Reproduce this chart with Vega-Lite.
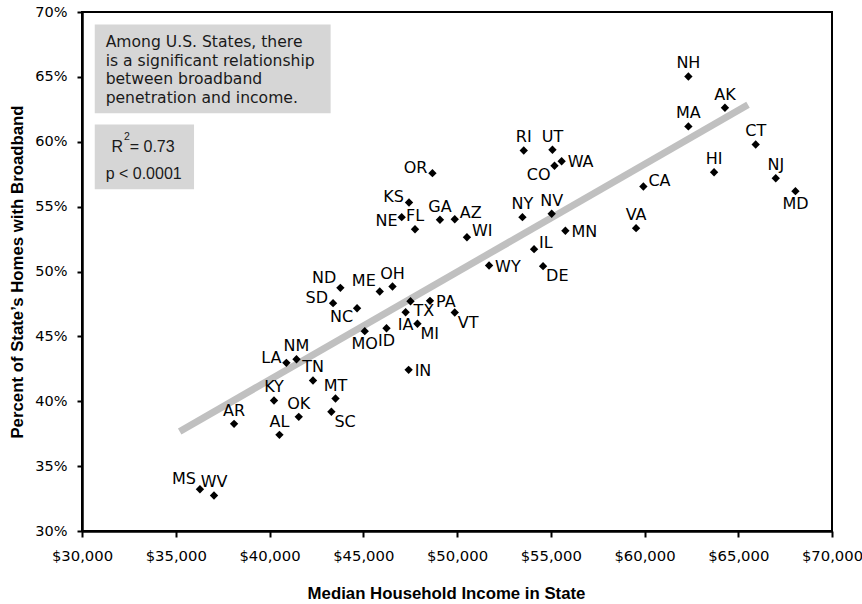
{
  "$schema": "https://vega.github.io/schema/vega-lite/v6.json",
  "width": 750,
  "height": 519,
  "autosize": {"type": "none"},
  "padding": {"left": 82, "top": 12, "right": 30, "bottom": 73},
  "background": "white",
  "config": {
    "view": {"stroke": "black", "strokeWidth": 2},
    "font": "DejaVu Sans"
  },
  "datasets": {
    "states": [
      {"state": "NH", "income": 62340, "pct": 65.03, "pos": "top"},
      {"state": "AK", "income": 64290, "pct": 62.62, "pos": "top"},
      {"state": "MA", "income": 62340, "pct": 61.18, "pos": "top"},
      {"state": "CT", "income": 65930, "pct": 59.79, "pos": "top"},
      {"state": "HI", "income": 63710, "pct": 57.65, "pos": "top"},
      {"state": "NJ", "income": 67000, "pct": 57.19, "pos": "top"},
      {"state": "MD", "income": 68050, "pct": 56.19, "pos": "bottom"},
      {"state": "CA", "income": 59940, "pct": 56.55, "pos": "upright"},
      {"state": "VA", "income": 59550, "pct": 53.34, "pos": "top"},
      {"state": "RI", "income": 53560, "pct": 59.33, "pos": "top"},
      {"state": "UT", "income": 55090, "pct": 59.38, "pos": "top"},
      {"state": "WA", "income": 55580, "pct": 58.50, "pos": "right"},
      {"state": "CO", "income": 55200, "pct": 58.15, "pos": "downleft"},
      {"state": "NY", "income": 53490, "pct": 54.19, "pos": "top"},
      {"state": "NV", "income": 55050, "pct": 54.45, "pos": "top"},
      {"state": "MN", "income": 55780, "pct": 53.14, "pos": "right"},
      {"state": "IL", "income": 54110, "pct": 51.72, "pos": "upright"},
      {"state": "DE", "income": 54590, "pct": 50.41, "pos": "downright"},
      {"state": "WY", "income": 51710, "pct": 50.46, "pos": "right"},
      {"state": "GA", "income": 49090, "pct": 53.99, "pos": "top"},
      {"state": "AZ", "income": 49880, "pct": 54.03, "pos": "upright"},
      {"state": "WI", "income": 50530, "pct": 52.64, "pos": "upright"},
      {"state": "OR", "income": 48690, "pct": 57.58, "pos": "left"},
      {"state": "KS", "income": 47440, "pct": 55.32, "pos": "left"},
      {"state": "NE", "income": 47050, "pct": 54.19, "pos": "leftlow"},
      {"state": "FL", "income": 47760, "pct": 53.26, "pos": "top"},
      {"state": "ND", "income": 43780, "pct": 48.74, "pos": "upleft"},
      {"state": "ME", "income": 45880, "pct": 48.46, "pos": "upleft"},
      {"state": "OH", "income": 46560, "pct": 48.84, "pos": "top"},
      {"state": "SD", "income": 43390, "pct": 47.56, "pos": "left"},
      {"state": "NC", "income": 44670, "pct": 47.17, "pos": "downleft"},
      {"state": "TX", "income": 47520, "pct": 47.71, "pos": "downright"},
      {"state": "IA", "income": 47260, "pct": 46.86, "pos": "bottom"},
      {"state": "MI", "income": 47890, "pct": 45.97, "pos": "downright"},
      {"state": "PA", "income": 48560, "pct": 47.74, "pos": "right"},
      {"state": "VT", "income": 49880, "pct": 46.84, "pos": "downright"},
      {"state": "MO", "income": 45080, "pct": 45.40, "pos": "bottom"},
      {"state": "ID", "income": 46240, "pct": 45.63, "pos": "bottom"},
      {"state": "IN", "income": 47420, "pct": 42.42, "pos": "right"},
      {"state": "LA", "income": 40900, "pct": 42.96, "pos": "left"},
      {"state": "NM", "income": 41440, "pct": 43.24, "pos": "top"},
      {"state": "TN", "income": 42320, "pct": 41.60, "pos": "top"},
      {"state": "KY", "income": 40240, "pct": 40.06, "pos": "top"},
      {"state": "MT", "income": 43520, "pct": 40.21, "pos": "top"},
      {"state": "OK", "income": 41560, "pct": 38.80, "pos": "top"},
      {"state": "SC", "income": 43300, "pct": 39.19, "pos": "downright"},
      {"state": "AR", "income": 38110, "pct": 38.26, "pos": "top"},
      {"state": "AL", "income": 40530, "pct": 37.41, "pos": "top"},
      {"state": "MS", "income": 36290, "pct": 33.22, "pos": "upleft"},
      {"state": "WV", "income": 37040, "pct": 32.74, "pos": "top"}
    ],
    "trend": [
      {"income": 35210, "pct": 37.67},
      {"income": 65520, "pct": 62.85}
    ],
    "boxes": [
      {"x1": 30680, "x2": 43260, "y1": 62.20, "y2": 69.04},
      {"x1": 30680, "x2": 35975, "y1": 56.34, "y2": 61.33}
    ],
    "notes": [
      {"text": "Among U.S. States, there", "income": 31260, "pct": 67.67, "kind": "main"},
      {"text": "is a significant relationship", "income": 31260, "pct": 66.19, "kind": "main"},
      {"text": "between broadband", "income": 31260, "pct": 64.80, "kind": "main"},
      {"text": "penetration and income.", "income": 31260, "pct": 63.39, "kind": "main"},
      {"text": "R", "income": 31568, "pct": 59.58, "kind": "stat"},
      {"text": "2", "income": 32240, "pct": 60.40, "kind": "sup"},
      {"text": "= 0.73", "income": 32544, "pct": 59.58, "kind": "stat"},
      {"text": "p < 0.0001", "income": 31260, "pct": 57.53, "kind": "stat"}
    ]
  },
  "layer": [
    {
      "data": {"name": "boxes"},
      "mark": {"type": "rect", "color": "#d6d6d6"},
      "encoding": {
        "x": {"field": "x1", "type": "quantitative", "scale": {"domain": [30000, 70000], "nice": false, "zero": false},
          "axis": {
            "title": "Median Household Income in State",
            "values": [30000, 35000, 40000, 45000, 50000, 55000, 60000, 65000, 70000],
            "format": "$,.0f",
            "grid": false,
            "labelFlush": false,
            "labelOverlap": false,
            "domainColor": "black", "domainWidth": 2.5,
            "tickColor": "black", "tickWidth": 2, "tickSize": 6,
            "labelFont": "DejaVu Sans", "labelFontSize": 14.8, "labelColor": "black", "labelPadding": 11,
            "titleFont": "Liberation Sans", "titleFontSize": 16.8, "titleFontWeight": "bold", "titleColor": "black", "titlePadding": 23,
            "titleX": 364
          }},
        "x2": {"field": "x2"},
        "y": {"field": "y1", "type": "quantitative", "scale": {"domain": [30, 70], "nice": false, "zero": false},
          "axis": {
            "title": "Percent of State’s Homes with Broadband",
            "values": [30, 35, 40, 45, 50, 55, 60, 65, 70],
            "labelExpr": "datum.value + '%'",
            "grid": false,
            "labelFlush": false,
            "labelOverlap": false,
            "domainColor": "black", "domainWidth": 2.5,
            "tickColor": "black", "tickWidth": 2, "tickSize": 5,
            "labelFont": "DejaVu Sans", "labelFontSize": 14.5, "labelColor": "black", "labelPadding": 10,
            "titleFont": "Liberation Sans", "titleFontSize": 16.8, "titleFontWeight": "bold", "titleColor": "black", "titlePadding": 8
          }},
        "y2": {"field": "y2"}
      }
    },
    {
      "data": {"name": "trend"},
      "mark": {"type": "line", "color": "#c0c0c0", "strokeWidth": 7, "strokeCap": "butt"},
      "encoding": {
        "x": {"field": "income", "type": "quantitative"},
        "y": {"field": "pct", "type": "quantitative"}
      }
    },
    {
      "data": {"name": "states"},
      "mark": {"type": "point", "shape": "diamond", "filled": true, "color": "black", "size": 70, "opacity": 1},
      "encoding": {
        "x": {"field": "income", "type": "quantitative"},
        "y": {"field": "pct", "type": "quantitative"}
      }
    },
    {
      "data": {"name": "states"},
      "transform": [{"filter": "datum.pos === 'top'"}],
      "mark": {"type": "text", "align": "center", "baseline": "middle", "dy": -13, "fontSize": 16, "color": "black"},
      "encoding": {"x": {"field": "income", "type": "quantitative"}, "y": {"field": "pct", "type": "quantitative"}, "text": {"field": "state"}}
    },
    {
      "data": {"name": "states"},
      "transform": [{"filter": "datum.pos === 'bottom'"}],
      "mark": {"type": "text", "align": "center", "baseline": "middle", "dy": 13, "fontSize": 16, "color": "black"},
      "encoding": {"x": {"field": "income", "type": "quantitative"}, "y": {"field": "pct", "type": "quantitative"}, "text": {"field": "state"}}
    },
    {
      "data": {"name": "states"},
      "transform": [{"filter": "datum.pos === 'right'"}],
      "mark": {"type": "text", "align": "left", "baseline": "middle", "dx": 6, "dy": 1, "fontSize": 16, "color": "black"},
      "encoding": {"x": {"field": "income", "type": "quantitative"}, "y": {"field": "pct", "type": "quantitative"}, "text": {"field": "state"}}
    },
    {
      "data": {"name": "states"},
      "transform": [{"filter": "datum.pos === 'upright'"}],
      "mark": {"type": "text", "align": "left", "baseline": "middle", "dx": 5, "dy": -6, "fontSize": 16, "color": "black"},
      "encoding": {"x": {"field": "income", "type": "quantitative"}, "y": {"field": "pct", "type": "quantitative"}, "text": {"field": "state"}}
    },
    {
      "data": {"name": "states"},
      "transform": [{"filter": "datum.pos === 'downright'"}],
      "mark": {"type": "text", "align": "left", "baseline": "middle", "dx": 3, "dy": 10, "fontSize": 16, "color": "black"},
      "encoding": {"x": {"field": "income", "type": "quantitative"}, "y": {"field": "pct", "type": "quantitative"}, "text": {"field": "state"}}
    },
    {
      "data": {"name": "states"},
      "transform": [{"filter": "datum.pos === 'left'"}],
      "mark": {"type": "text", "align": "right", "baseline": "middle", "dx": -5, "dy": -5, "fontSize": 16, "color": "black"},
      "encoding": {"x": {"field": "income", "type": "quantitative"}, "y": {"field": "pct", "type": "quantitative"}, "text": {"field": "state"}}
    },
    {
      "data": {"name": "states"},
      "transform": [{"filter": "datum.pos === 'leftlow'"}],
      "mark": {"type": "text", "align": "right", "baseline": "middle", "dx": -4, "dy": 4, "fontSize": 16, "color": "black"},
      "encoding": {"x": {"field": "income", "type": "quantitative"}, "y": {"field": "pct", "type": "quantitative"}, "text": {"field": "state"}}
    },
    {
      "data": {"name": "states"},
      "transform": [{"filter": "datum.pos === 'upleft'"}],
      "mark": {"type": "text", "align": "right", "baseline": "middle", "dx": -4, "dy": -10, "fontSize": 16, "color": "black"},
      "encoding": {"x": {"field": "income", "type": "quantitative"}, "y": {"field": "pct", "type": "quantitative"}, "text": {"field": "state"}}
    },
    {
      "data": {"name": "states"},
      "transform": [{"filter": "datum.pos === 'downleft'"}],
      "mark": {"type": "text", "align": "right", "baseline": "middle", "dx": -4, "dy": 9, "fontSize": 16, "color": "black"},
      "encoding": {"x": {"field": "income", "type": "quantitative"}, "y": {"field": "pct", "type": "quantitative"}, "text": {"field": "state"}}
    },
    {
      "data": {"name": "notes"},
      "transform": [{"filter": "datum.kind === 'main'"}],
      "mark": {"type": "text", "align": "left", "baseline": "middle", "fontSize": 15.6, "font": "DejaVu Sans", "color": "#1a1a1a"},
      "encoding": {"x": {"field": "income", "type": "quantitative"}, "y": {"field": "pct", "type": "quantitative"}, "text": {"field": "text"}}
    },
    {
      "data": {"name": "notes"},
      "transform": [{"filter": "datum.kind === 'stat'"}],
      "mark": {"type": "text", "align": "left", "baseline": "middle", "fontSize": 16, "font": "Liberation Sans", "color": "#1a1a1a"},
      "encoding": {"x": {"field": "income", "type": "quantitative"}, "y": {"field": "pct", "type": "quantitative"}, "text": {"field": "text"}}
    },
    {
      "data": {"name": "notes"},
      "transform": [{"filter": "datum.kind === 'sup'"}],
      "mark": {"type": "text", "align": "left", "baseline": "middle", "fontSize": 10.5, "font": "Liberation Sans", "color": "#1a1a1a"},
      "encoding": {"x": {"field": "income", "type": "quantitative"}, "y": {"field": "pct", "type": "quantitative"}, "text": {"field": "text"}}
    }
  ]
}
